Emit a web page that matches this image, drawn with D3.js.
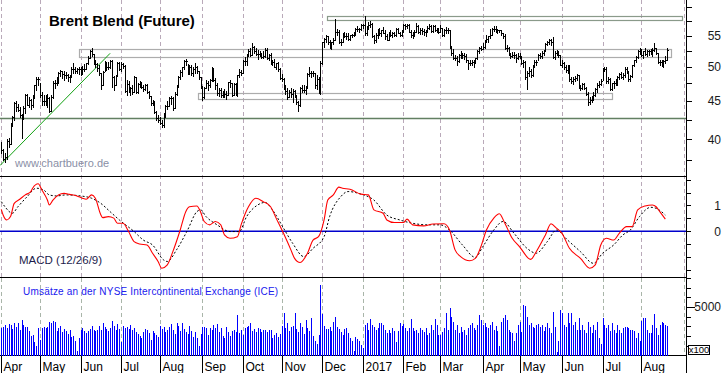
<!DOCTYPE html>
<html>
<head>
<meta charset="utf-8">
<script src="https://cdn.jsdelivr.net/npm/d3@7"></script>
<style>
  body { margin: 0; background: #fff; }
  svg { display: block; font-family: "Liberation Sans", Arial, sans-serif; }
</style>
</head>
<body>
<div id="chart"></div>
<script>
// daily bars Apr 2016 - Aug 2017, one line per month
const highs = [
  39.7,38.8,38.3,40.0,40.2,42.1,43.0,44.8,45.0,44.6,44.2,43.2,44.3,46.0,46.0,45.5,45.3,45.9,47.3,48.5,48.5,
  47.5,46.2,45.8,45.9,46.0,45.6,45.9,47.8,48.0,48.4,49.2,49.5,49.4,49.4,49.2,48.9,48.8,49.9,50.5,50.0,49.8,50.0,
  50.0,50.1,50.4,50.6,51.6,52.6,52.9,52.0,51.1,50.6,50.3,49.0,49.4,50.9,50.8,50.7,51.1,51.0,48.6,48.7,50.7,50.8,
  50.8,50.6,50.2,48.0,47.8,47.0,47.3,48.6,48.5,47.6,47.8,47.7,47.2,47.4,47.4,46.4,45.7,45.1,45.0,43.7,43.1,
  42.8,42.5,43.3,44.4,45.0,45.6,45.7,45.5,46.2,47.2,48.6,49.5,49.9,51.1,51.2,50.4,50.3,50.3,50.0,50.5,50.1,49.3,48.4,
  47.1,47.0,48.0,47.9,48.2,50.0,49.8,48.3,47.5,46.8,46.9,46.4,46.7,46.4,47.7,48.0,47.6,47.6,47.5,48.8,49.6,49.5,
  51.0,51.5,52.0,52.8,52.9,53.7,53.3,52.9,52.6,52.5,52.1,52.4,53.0,52.9,52.0,52.1,51.1,51.2,50.6,50.7,49.8,
  48.9,48.3,47.3,46.8,46.6,46.8,46.7,46.6,45.9,45.0,47.0,47.3,47.3,47.1,49.1,49.9,49.4,49.3,49.0,48.7,48.4,50.9,
  54.0,54.6,55.2,55.0,54.3,54.0,54.6,57.9,56.2,55.9,54.5,55.4,55.7,55.4,55.4,55.2,55.3,55.6,56.3,56.6,56.4,57.0,
  57.0,58.4,56.7,57.3,57.5,57.2,55.2,55.5,56.2,56.3,56.0,56.5,56.0,55.3,55.7,55.9,55.6,55.7,56.4,56.3,55.7,55.9,
  57.0,57.1,57.0,57.0,56.0,55.6,55.9,57.2,56.9,56.3,56.3,56.1,56.0,56.6,57.1,56.9,56.8,56.8,56.3,56.3,
  56.8,56.4,56.1,56.5,56.3,56.0,53.3,52.8,51.9,51.6,52.0,52.5,52.1,52.1,52.0,51.0,51.1,51.1,51.0,51.4,52.7,53.1,53.3,
  53.8,54.3,55.1,55.0,56.1,56.3,56.7,56.7,56.1,56.0,56.0,55.5,55.3,53.5,53.2,52.2,52.3,52.3,52.0,52.1,
  52.2,51.7,51.1,50.9,49.4,49.9,49.6,50.3,51.0,51.1,52.0,52.1,52.4,52.6,53.7,54.1,54.5,54.4,54.7,52.4,52.6,52.4,51.9,
  51.1,50.7,50.3,50.2,50.2,48.4,48.5,48.6,48.9,48.8,47.2,47.5,47.6,47.0,46.3,45.5,45.7,46.2,46.9,47.5,47.8,48.1,
  49.8,50.0,49.9,48.5,48.3,47.5,47.8,48.1,48.6,49.0,49.2,49.0,49.9,49.9,49.4,48.8,50.3,51.1,51.6,52.7,52.9,
  52.8,52.5,53.0,52.6,52.7,52.8,52.9,53.7,53.0,52.2,51.0,51.1,51.0,51.6,52.9
];
const lows = [
  38.3,37.5,37.3,37.6,39.1,39.4,41.7,42.5,43.7,43.6,42.8,40.1,42.6,43.4,44.4,44.2,43.9,44.2,45.4,46.6,47.3,
  45.5,44.5,44.4,44.4,44.2,43.5,43.6,45.4,46.9,47.3,47.6,48.6,48.3,48.0,48.3,47.9,47.7,48.5,49.1,49.0,49.0,48.9,
  48.8,48.9,49.3,49.6,50.4,51.3,51.6,50.4,49.9,49.4,48.7,46.7,47.3,49.3,49.5,49.6,49.8,47.0,46.6,47.2,48.6,49.5,
  49.4,49.8,46.2,45.9,46.3,45.8,46.0,46.2,46.1,46.1,47.0,46.8,46.4,46.5,46.1,45.4,44.5,44.4,43.3,42.5,42.2,
  41.9,41.5,41.5,42.8,43.9,44.3,44.6,43.8,44.0,45.8,47.0,48.1,48.6,49.6,50.2,48.9,48.9,48.8,48.6,49.0,49.0,48.1,46.8,
  45.1,45.4,46.8,46.6,47.0,47.8,47.8,46.7,45.9,45.7,45.6,45.6,45.5,45.3,45.9,47.0,45.7,45.9,45.9,45.7,48.4,48.7,
  49.0,50.2,50.3,51.7,51.7,51.8,52.2,51.8,51.2,51.6,51.3,51.4,51.5,51.2,51.1,50.4,50.3,49.9,49.7,49.4,48.2,
  47.8,46.7,46.0,45.3,45.6,45.6,44.9,45.6,44.6,43.6,44.3,46.2,46.2,46.0,46.9,48.6,48.4,48.6,46.9,46.7,46.1,46.0,
  50.4,53.1,54.0,53.6,52.9,52.8,53.6,54.3,55.1,53.8,53.4,54.0,54.7,54.4,54.2,54.3,54.8,55.0,55.2,55.8,55.6,56.0,
  56.4,55.1,55.1,56.1,56.5,54.8,53.8,53.9,54.6,55.2,55.0,55.4,54.5,54.2,54.2,54.9,54.8,54.9,55.0,55.4,54.9,54.9,
  55.6,56.2,56.3,55.6,54.8,54.6,54.9,55.7,55.5,55.3,55.3,55.1,55.0,55.7,56.2,55.6,55.7,55.8,55.6,55.4,
  55.7,54.9,55.0,55.5,55.4,53.0,51.9,51.2,51.0,50.3,50.7,51.4,51.3,51.2,50.8,49.7,50.2,50.3,49.9,50.6,51.2,52.2,52.6,
  52.8,53.0,54.0,54.0,54.6,55.1,55.8,55.6,55.4,55.7,55.1,54.6,52.8,52.5,51.9,51.3,51.5,51.3,50.8,51.2,
  51.3,50.4,50.0,48.2,46.7,48.6,48.4,48.6,50.0,50.3,51.1,51.3,51.4,51.8,52.4,53.5,53.6,53.5,51.3,51.2,51.9,51.5,50.2,
  49.9,49.7,49.2,49.1,47.9,47.5,47.4,47.8,48.0,46.8,46.5,46.7,46.7,45.8,44.4,44.6,44.8,45.2,45.7,46.3,47.0,47.2,
  48.0,49.3,47.6,47.5,46.5,46.6,46.9,47.3,47.3,48.2,48.3,48.1,48.5,49.1,47.9,47.9,48.5,50.1,50.7,51.4,52.0,
  51.6,51.4,51.8,51.6,51.9,52.0,51.7,52.5,52.0,50.6,50.2,50.1,50.0,50.6,51.0
];
const closes = [
  38.7,37.7,37.9,39.8,39.4,41.9,42.8,44.7,44.2,43.8,43.1,42.9,44.0,45.8,44.5,45.1,44.5,45.7,47.2,48.1,48.1,
  45.8,45.0,45.0,45.0,45.4,43.6,45.5,47.6,47.6,47.8,49.0,49.3,48.9,48.8,48.7,48.4,48.6,49.7,49.6,49.3,49.6,49.7,
  49.7,49.7,49.6,50.6,51.4,52.5,52.0,50.5,50.4,49.8,49.0,47.2,49.2,50.7,50.0,49.9,50.9,48.4,47.2,48.6,50.6,49.7,
  50.4,50.1,46.4,47.4,46.4,46.8,46.3,48.5,46.3,47.4,47.6,47.0,46.7,47.2,46.2,45.7,44.7,44.9,43.5,42.7,42.5,
  42.1,41.8,43.1,44.3,44.3,45.4,45.4,44.1,46.0,47.0,48.4,49.2,49.9,50.9,50.9,49.2,50.0,49.1,49.7,49.9,49.3,48.4,47.0,
  45.5,46.8,47.6,47.3,48.0,49.8,48.0,47.3,46.1,46.6,45.9,45.8,46.0,45.9,47.7,47.6,45.9,47.4,46.0,48.7,49.2,49.1,
  50.9,50.9,51.9,52.5,51.9,53.1,52.4,52.0,52.0,51.9,51.5,51.7,52.7,51.4,51.8,50.5,50.8,50.0,50.5,49.7,48.3,
  48.1,46.9,46.4,45.6,46.2,46.0,46.4,45.8,44.8,44.4,46.9,46.6,46.5,46.9,48.9,49.1,49.0,49.0,47.2,48.2,46.4,50.5,
  53.9,54.5,54.9,53.9,53.0,53.9,54.3,55.7,55.7,54.0,54.0,55.2,55.0,54.9,54.5,55.1,55.2,55.4,56.1,56.2,56.1,56.8,
  56.8,55.5,56.5,56.9,57.1,54.9,54.2,55.1,56.0,55.5,55.9,55.5,54.9,54.2,55.5,55.2,55.4,55.1,56.2,55.5,55.2,55.7,
  56.8,56.6,56.8,55.7,55.1,55.1,55.6,56.7,55.6,56.0,55.8,55.7,55.8,56.4,56.7,55.8,56.6,56.0,56.0,55.6,
  56.4,55.1,55.9,55.9,55.9,53.1,52.2,51.4,51.4,50.9,51.8,51.8,51.8,51.6,51.0,50.6,50.6,50.8,50.8,51.3,52.5,53.0,52.8,
  53.1,54.2,54.4,54.9,55.2,56.2,56.2,55.9,55.9,55.9,55.4,54.9,52.9,53.0,52.0,51.6,51.8,51.8,51.4,51.7,
  51.5,50.5,50.8,48.4,49.1,49.3,48.7,50.2,50.8,50.8,51.8,51.7,52.2,52.5,53.6,53.9,54.2,54.0,51.5,52.2,52.3,51.8,50.3,
  50.6,50.0,49.5,50.0,48.1,47.9,48.2,48.3,48.7,47.0,46.9,47.4,46.9,46.0,44.8,45.2,45.5,45.8,46.7,47.3,47.4,47.9,
  49.7,49.6,47.8,48.1,46.7,47.5,47.5,47.7,48.4,48.9,48.4,48.8,49.7,49.3,48.1,48.6,50.2,51.0,51.5,52.5,52.7,
  51.8,52.4,52.0,52.4,52.4,52.1,52.7,52.9,52.1,50.7,50.8,50.3,50.9,51.0,52.7
];
// ICE turnover, contracts x100
const volumes = [
  2800,2950,3100,2800,3250,3150,2700,3300,2900,3300,2600,3700,3100,2900,2950,2500,2000,2100,1400,950,2800,
  1600,2800,2900,2800,2900,3500,3300,3600,3450,2500,2800,3000,2400,2750,2500,2250,2600,1900,2000,1500,500,1800,
  2600,2800,2500,2350,2500,2750,3000,2600,2500,2650,3000,2600,3300,2900,2700,2500,2800,3600,3000,2600,3200,2700,
  1400,3000,2800,2950,2700,3100,2600,2800,2450,2200,2000,1800,2400,2700,2600,2300,1600,2500,2300,2150,1900,
  3000,2700,2900,2400,2650,2900,3200,2600,2200,3400,3000,2500,3300,2700,2400,2250,3000,2550,1900,2450,1800,1000,2200,
  2900,2900,2800,2150,2800,2650,3150,2800,3200,2450,2800,2050,1850,2900,2400,2000,2550,2600,2450,4200,2300,2600,
  2100,2800,2950,3000,3300,2500,2750,2450,2800,2700,2400,2650,2600,2450,2600,2650,1850,2100,2350,1950,2200,
  3000,4350,2800,3300,2500,2900,3000,4350,2750,2400,3300,2900,2200,3700,2800,2500,3900,2000,1500,1200,2100,7300,
  4250,3000,2700,2750,2900,2550,3500,4000,2900,2750,2400,2100,2700,2800,2300,1800,1450,500,1900,1700,1500,1100,
  800,3100,3300,2600,3800,3100,2900,2600,2800,3400,3300,3100,2600,2300,2600,2300,2800,2500,1400,2500,3300,3000,
  3200,2800,2500,2800,3800,2800,2500,2650,2300,2800,2650,2450,2800,2150,2300,3100,2650,3800,3150,2100,
  2100,2400,2800,4350,2600,4900,4000,3500,2650,3150,2300,2950,2450,2650,2150,2800,3150,3300,2800,2650,3150,4200,3650,
  3150,3300,2950,2800,3150,3500,2650,3000,2500,1000,3500,3850,4200,3650,2650,2450,2300,1500,2300,3150,
  3500,2400,5200,5100,4000,3150,3300,2950,2800,3150,3200,2950,3150,2500,2950,3300,2800,2300,4500,2950,400,1450,4700,
  4350,3100,2950,4350,3350,4350,3150,3500,2650,3850,2650,3150,2650,2300,3500,2950,2300,3150,2650,3500,1800,1200,
  3850,3150,2800,3150,2500,3300,2650,2300,3150,2650,2300,2800,2950,2950,2800,2650,2650,2500,1800,2300,1450,
  3600,3850,3850,2650,2300,2300,3150,4300,2800,2150,3150,3500,3300,3150,3000
];
// MACD (12/26/9): [bar index, value]
const macdPts = [[0,0.85],[1,0.63],[3,0.44],[5,0.57],[7,1.08],[10,1.24],[13,1.41],[16,1.54],[17,1.67],[20,1.84],
  [22,1.6],[25,1.21],[26,1.02],[28,1.21],[31,1.41],[34,1.47],[37,1.43],[41,1.37],[44,1.28],[46,1.24],[49,1.41],
  [51,1.28],[54,0.63],[55,0.53],[58,0.57],[61,0.51],[63,0.31],[66,0.31],[69,-0.01],[72,-0.40],[75,-0.49],[79,-0.53],
  [82,-0.85],[85,-1.17],[87,-1.43],[90,-1.3],[93,-0.79],[97,0.05],[100,0.76],[102,0.95],[106,0.98],[108,0.76],
  [110,0.38],[113,0.25],[116,0.38],[119,0.25],[121,-0.14],[124,-0.27],[128,-0.21],[130,0.25],[134,0.95],[138,1.28],
  [142,1.15],[146,0.95],[149,0.51],[153,-0.08],[157,-0.72],[159,-1.05],[162,-1.21],[166,-0.85],[169,-0.34],[172,-0.21],
  [175,0.44],[177,1.21],[180,1.41],[183,1.71],[185,1.67],[189,1.63],[195,1.44],[199,1.41],[202,0.83],[207,0.7],
  [209,0.44],[213,0.34],[218,0.34],[220,0.47],[223,0.25],[229,0.21],[234,0.28],[240,0.29],[243,0.05],[246,-0.72],
  [249,-0.98],[254,-1.14],[257,-1.05],[260,-0.6],[263,0.05],[267,0.51],[270,0.68],[273,0.31],[277,-0.27],[281,-0.6],
  [287,-1.09],[290,-0.79],[295,-0.14],[298,0.29],[301,0.12],[304,-0.08],[308,-0.66],[314,-1.05],[319,-1.43],[322,-1.3],
  [325,-0.53],[328,-0.27],[332,-0.34],[335,-0.08],[339,0.18],[342,0.18],[345,0.83],[349,0.98],[353,1.02],[355,0.95],
  [357,0.76],[360,0.47]];
const signalPts = [[0,1.15],[2,0.95],[6,0.7],[9,0.95],[14,1.34],[19,1.67],[23,1.6],[26,1.41],[30,1.37],[35,1.41],
  [43,1.37],[49,1.28],[54,1.08],[59,0.76],[64,0.44],[72,-0.01],[77,-0.34],[82,-0.53],[88,-1.11],[90,-1.17],[95,-0.72],
  [101,0.05],[106,0.76],[108,0.83],[111,0.57],[117,0.25],[124,-0.01],[129,-0.01],[133,0.57],[139,1.02],[143,1.12],
  [147,0.83],[153,0.12],[158,-0.47],[164,-0.98],[169,-0.66],[175,-0.21],[178,0.57],[184,1.34],[188,1.54],[195,1.44],
  [202,1.21],[209,0.63],[216,0.44],[223,0.31],[231,0.25],[238,0.25],[243,0.05],[250,-0.53],[257,-1.01],[261,-0.6],
  [267,0.05],[272,0.38],[278,-0.08],[285,-0.66],[290,-0.85],[296,-0.4],[301,0.05],[307,-0.34],[314,-0.79],[321,-1.24],
  [326,-0.85],[332,-0.53],[337,-0.14],[341,0.05],[346,0.57],[352,0.93],[355,0.89],[360,0.63]];

// drawn annotations: zones [from bar, to bar, low, high], support level, trend line
const zones = [[176.8, 369.2, 57.8, 58.5], [42.3, 363.5, 51.5, 52.75], [106.8, 331, 45.25, 46.1]];
const supportLevel = 42.7;
const trendLine = [[-0.7, 36.9], [59, 52.1]];

const monthLabels = ['Apr','May','Jun','Jul','Aug','Sep','Oct','Nov','Dec','2017','Feb','Mar','Apr','May','Jun','Jul','Aug'];
const priceTicks = [37.5, 40, 42.5, 45, 47.5, 50, 52.5, 55, 57.5, 60];
const priceLabels = [40, 45, 50, 55];
const macdTicks = [-1.5, -1, -0.5, 0, 0.5, 1, 1.5, 2];
const volTicks = [1000, 2000, 3000, 4000, 5000, 6000, 7000, 8000];

const width = 723, height = 373;
const axisX = 686.5;
const priceBottom = 176.5, macdBottom = 277.5, volBase = 355.5;

const svg = d3.select('#chart').append('svg')
    .attr('width', width)
    .attr('height', height);
svg.append('rect').attr('width', width).attr('height', height).attr('fill', '#fff');

// weekday calendar for the x positions
const days = d3.timeDay.range(new Date(2016, 3, 1), new Date(2017, 8, 5)).filter(d => d.getDay() % 6 !== 0);
const monthStarts = days.map((d, i) => i).filter(i => i === 0 || days[i].getMonth() !== days[i - 1].getMonth());

const x = d3.scaleLinear().domain([-0.7, 371.2]).range([0, 686]);
const yP = d3.scaleLog().domain([61.38, 35.73]).range([0, 176]);
const yM = d3.scaleLinear().domain([2.143, -1.791]).range([176, 277.5]);
const yV = d3.scaleLinear().domain([0, 8000]).range([volBase, volBase - 77.6]);
const px = i => Math.round(x(i)) + 0.5;

// month grid
const grid = svg.append('g').attr('stroke-dasharray', '4,3').attr('shape-rendering', 'crispEdges');
grid.selectAll('.gu').data(monthStarts).join('line')
    .attr('x1', d => px(d)).attr('x2', d => px(d))
    .attr('y1', 0).attr('y2', macdBottom)
    .attr('stroke', '#b9a9b9');
grid.selectAll('.gl').data(monthStarts).join('line')
    .attr('x1', d => px(d)).attr('x2', d => px(d))
    .attr('y1', macdBottom).attr('y2', volBase)
    .attr('stroke', '#a9b5a9');

// zones
svg.append('g').selectAll('rect').data(zones).join('rect')
    .attr('x', d => Math.round(x(d[0])) + 0.5)
    .attr('y', d => Math.round(yP(d[3])) + 0.5)
    .attr('width', d => Math.round(x(d[1]) - x(d[0])))
    .attr('height', d => Math.round(yP(d[2]) - yP(d[3])))
    .attr('fill', 'none')
    .attr('stroke', (d, i) => i === 0 ? '#8a9a8a' : '#acacac')
    .attr('stroke-width', 1.2);

// support line
svg.append('line')
    .attr('x1', 0).attr('x2', axisX)
    .attr('y1', Math.round(yP(supportLevel)) + 0.5).attr('y2', Math.round(yP(supportLevel)) + 0.5)
    .attr('stroke', '#627f62').attr('stroke-width', 1.3);

// trend line
svg.append('path')
    .datum(trendLine)
    .attr('d', d3.line().x(d => x(d[0])).y(d => yP(d[1])))
    .attr('stroke', '#11a011').attr('stroke-width', 1).attr('fill', 'none');

// price bars (high-low with close tick)
svg.append('g')
    .attr('stroke', '#000')
    .attr('stroke-width', 1)
    .attr('shape-rendering', 'crispEdges')
    .attr('fill', 'none')
    .selectAll('path').data(closes).join('path')
    .attr('d', (c, i) => {
        const bx = px(i);
        const yc = Math.round(yP(c)) + 0.5;
        return `M${bx},${Math.round(yP(highs[i]))}V${Math.round(yP(lows[i])) + 1}M${bx - 0.5},${yc}H${bx + 1.5}`;
    });

// title + watermark
svg.append('text')
    .attr('x', 49).attr('y', 25.5)
    .style('font-size', '15px').style('font-weight', 'bold')
    .text('Brent Blend (Future)');
svg.append('text')
    .attr('x', 15).attr('y', 166.5)
    .style('font-size', '11px').attr('fill', '#8a8fa6')
    .text('www.chartbuero.de');

// panel separators
svg.append('g').attr('stroke', '#000').attr('shape-rendering', 'crispEdges')
    .selectAll('line').data([priceBottom, macdBottom, volBase]).join('line')
    .attr('x1', 0).attr('x2', axisX).attr('y1', d => d).attr('y2', d => d);

// MACD panel
svg.append('clipPath').attr('id', 'mclip').append('rect')
    .attr('x', 0).attr('y', priceBottom + 0.5).attr('width', axisX).attr('height', macdBottom - priceBottom - 1);
svg.append('line')
    .attr('x1', 0).attr('x2', axisX)
    .attr('y1', yM(0)).attr('y2', yM(0))
    .attr('stroke', '#0000cc').attr('stroke-width', 1.4);
const mline = d3.line().x(d => x(d[0])).y(d => yM(d[1])).curve(d3.curveMonotoneX);
svg.append('path').datum(signalPts)
    .attr('clip-path', 'url(#mclip)')
    .attr('d', mline)
    .attr('fill', 'none').attr('stroke', '#000').attr('stroke-width', 1).attr('stroke-dasharray', '2,2');
svg.append('path').datum(macdPts)
    .attr('clip-path', 'url(#mclip)')
    .attr('d', mline)
    .attr('fill', 'none').attr('stroke', '#ff0000').attr('stroke-width', 1.1);
svg.append('text')
    .attr('x', 19).attr('y', 264)
    .style('font-size', '11.5px').attr('fill', '#1c1c4c')
    .text('MACD (12/26/9)');

// volume bars
svg.append('g')
    .attr('stroke', '#0000ff')
    .attr('shape-rendering', 'crispEdges')
    .selectAll('line').data(volumes).join('line')
    .attr('x1', (v, i) => px(i)).attr('x2', (v, i) => px(i))
    .attr('y1', volBase).attr('y2', v => yV(v));
svg.append('text')
    .attr('x', 23).attr('y', 295)
    .style('font-size', '10px').style('letter-spacing', '0.2px').attr('fill', '#2020ee')
    .text('Umsätze an der NYSE Intercontinental Exchange (ICE)');

// x axis: month ticks and labels
const xa = svg.append('g');
xa.selectAll('line').data(monthStarts.slice(0, monthLabels.length)).join('line')
    .attr('x1', d => px(d)).attr('x2', d => px(d))
    .attr('y1', volBase).attr('y2', height)
    .attr('stroke', '#000').attr('shape-rendering', 'crispEdges');
xa.selectAll('text').data(monthStarts.slice(0, monthLabels.length)).join('text')
    .attr('x', d => px(d) + 2).attr('y', 371)
    .style('font-size', '12px')
    .text((d, i) => monthLabels[i]);

// right axis
svg.append('line')
    .attr('x1', axisX).attr('x2', axisX).attr('y1', 0).attr('y2', height)
    .attr('stroke', '#000').attr('shape-rendering', 'crispEdges');

function rightAxis(scale, ticks, fmt, size) {
    const g = svg.append('g')
        .attr('transform', `translate(${axisX},0)`)
        .call(d3.axisRight(scale).tickValues(ticks).tickSize(size).tickFormat(fmt));
    g.select('.domain').remove();
    g.selectAll('line').attr('shape-rendering', 'crispEdges');
    g.selectAll('text')
        .attr('x', 721 - axisX)
        .attr('text-anchor', 'end')
        .attr('fill', '#1a1a1a')
        .style('font-size', '12px')
        .style('font-family', '"Liberation Sans", Arial, sans-serif');
    return g;
}
rightAxis(yP, priceTicks, d => priceLabels.includes(d) ? d : '', 5);
rightAxis(yM, macdTicks, d => (d === 0 || d === 1) ? d : '', 4);
const va = rightAxis(yV, volTicks, d => d === 5000 ? d : '', 4);
va.selectAll('.tick line').filter(d => d === 5000).attr('x2', 8);

// x100 unit box
svg.append('rect')
    .attr('x', 688.5).attr('y', 345.5).attr('width', 21).attr('height', 9)
    .attr('fill', '#fff').attr('stroke', '#000').attr('shape-rendering', 'crispEdges');
svg.append('text')
    .attr('x', 699).attr('y', 353.3)
    .attr('text-anchor', 'middle')
    .style('font-size', '9.5px')
    .text('x100');
</script>
</body>
</html>
